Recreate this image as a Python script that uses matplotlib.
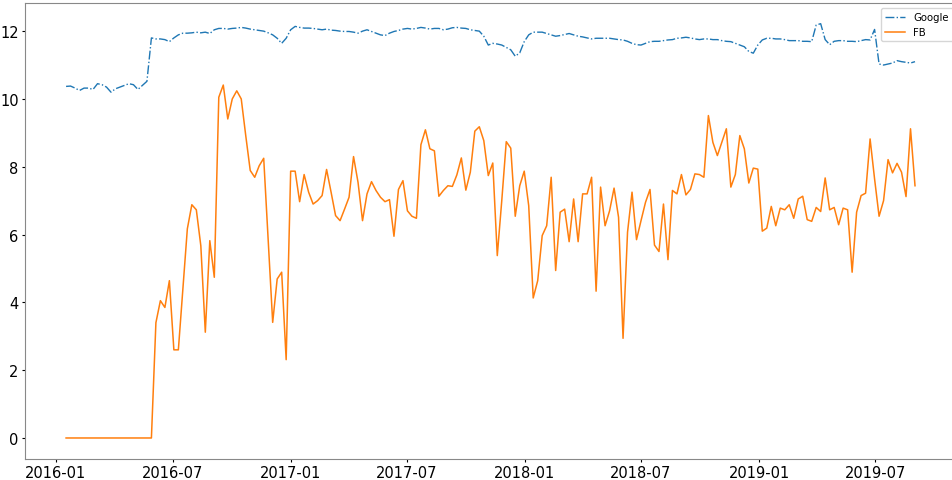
import numpy as np
import pandas as pd
import matplotlib
matplotlib.use("Agg")
import matplotlib.pyplot as plt

# weekly samples, Sunday-anchored
dates = pd.date_range("2016-01-17", periods=190, freq="W-SUN")

google = [
    10.37, 10.38, 10.32, 10.25, 10.32, 10.32, 10.28, 10.45, 10.42, 10.35,
    10.20, 10.30, 10.35, 10.40, 10.45, 10.42, 10.28, 10.40, 10.52, 11.80,
    11.77, 11.77, 11.75, 11.69, 11.80, 11.89, 11.94, 11.94, 11.95, 11.97,
    11.95, 11.97, 11.93, 12.04, 12.08, 12.08, 12.06, 12.08, 12.09, 12.11,
    12.09, 12.06, 12.04, 12.02, 12.00, 11.95, 11.89, 11.79, 11.64, 11.79,
    12.04, 12.14, 12.11, 12.09, 12.09, 12.08, 12.06, 12.04, 12.06, 12.03,
    12.02, 12.00, 11.99, 11.99, 11.97, 11.94, 12.00, 12.04, 11.99, 11.94,
    11.89, 11.87, 11.94, 11.99, 12.02, 12.06, 12.08, 12.06, 12.08, 12.11,
    12.09, 12.06, 12.08, 12.08, 12.04, 12.06, 12.10, 12.11, 12.09, 12.08,
    12.04, 12.02, 12.00, 11.85, 11.59, 11.64, 11.62, 11.59, 11.52, 11.45,
    11.26, 11.36, 11.69, 11.89, 11.97, 11.97, 11.97, 11.93, 11.89, 11.85,
    11.87, 11.90, 11.93, 11.89, 11.85, 11.83, 11.80, 11.77, 11.79, 11.79,
    11.79, 11.79, 11.77, 11.75, 11.74, 11.70, 11.64, 11.60, 11.59, 11.64,
    11.69, 11.70, 11.70, 11.72, 11.74, 11.75, 11.79, 11.80, 11.82, 11.80,
    11.77, 11.75, 11.77, 11.77, 11.75, 11.75, 11.72, 11.70, 11.69, 11.64,
    11.59, 11.54, 11.40, 11.35, 11.59, 11.74, 11.79, 11.79, 11.77, 11.77,
    11.75, 11.72, 11.72, 11.72, 11.70, 11.70, 11.69, 12.18, 12.22, 11.75,
    11.60, 11.70, 11.72, 11.72, 11.70, 11.70, 11.69, 11.72, 11.75, 11.74,
    12.05, 11.03, 11.00, 11.03, 11.06, 11.13, 11.10, 11.08, 11.06, 11.10,
]

fb = [0.0] * 20 + [
    3.40, 4.05, 3.85, 4.64, 2.60, 2.60, 4.40, 6.17, 6.88, 6.73,
    5.67, 3.12, 5.82, 4.74, 10.05, 10.41, 9.41, 10.00, 10.24,
    10.00, 8.92, 7.89, 7.69, 8.03, 8.25, 5.80, 3.41, 4.69, 4.89,
    2.31, 7.87, 7.87, 6.97, 7.77, 7.25, 6.90, 7.00, 7.15, 7.92,
    7.25, 6.56,
    6.41, 6.75, 7.10, 8.30, 7.54, 6.41, 7.20, 7.56, 7.30, 7.10,
    6.97, 7.03, 5.95, 7.33, 7.59, 6.70, 6.54, 6.48, 8.65, 9.09,
    8.53, 8.47,
    7.13, 7.30, 7.44, 7.42, 7.76, 8.26, 7.31, 7.84, 9.05, 9.18,
    8.77, 7.74, 8.11, 5.38, 7.00, 8.74, 8.55, 6.54, 7.44, 7.87,
    6.85, 4.13,
    4.64, 5.97, 6.26, 7.69, 4.94, 6.66, 6.75, 5.79, 7.05, 5.79,
    7.20, 7.20, 7.69, 4.33, 7.40, 6.26, 6.70, 7.37, 6.51, 2.94,
    6.07, 7.25, 5.85, 6.41, 6.95, 7.33, 5.69, 5.50, 6.90, 5.26,
    7.30, 7.20, 7.77, 7.17, 7.33, 7.79, 7.77, 7.69, 9.51, 8.72,
    8.33, 8.72, 9.12, 7.40, 7.77, 8.92, 8.53, 7.52, 7.96, 7.93,
    6.10, 6.19, 6.83, 6.26, 6.78, 6.73, 6.88, 6.48, 7.05, 7.13,
    6.44, 6.39, 6.80, 6.68, 7.67, 6.73, 6.80, 6.29, 6.78, 6.73,
    4.89, 6.66, 7.15, 7.22, 8.82, 7.64, 6.54, 7.00, 8.21, 7.82,
    8.10, 7.84, 7.12, 9.12, 7.44,
]

fig = plt.figure(figsize=(9.53, 4.81), dpi=100)
# axes run a little past the right edge of the canvas
ax = fig.add_axes([25 / 953, 21 / 481, 933 / 953, 456 / 481])

ax.plot(dates, google, "-.", color="C0", linewidth=1.0, label="Google")
ax.plot(dates, fb, "-", color="C1", linewidth=1.1, label="FB")

ax.set_xlim(pd.Timestamp("2015-11-14"), pd.Timestamp("2019-11-07"))
ax.set_ylim(-0.62, 12.83)

ax.tick_params(labelsize=10.5, length=2.5, pad=2)
for s in ax.spines.values():
    s.set_color("#888888")

ax.legend(loc="upper right", fontsize=7.3)

fig.savefig("out.png", dpi=100)
